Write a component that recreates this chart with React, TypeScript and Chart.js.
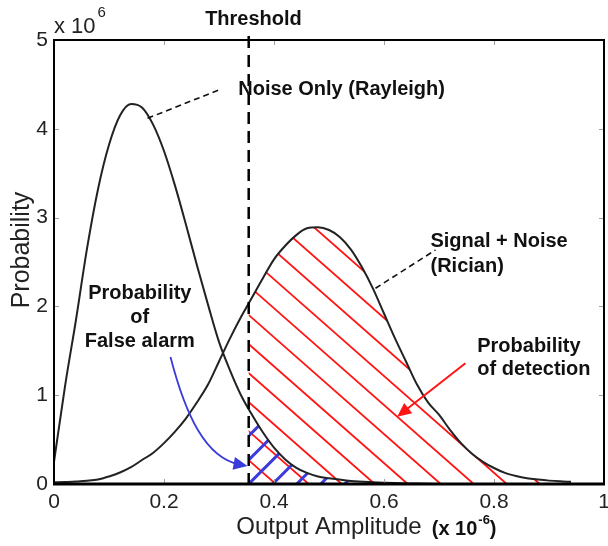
import React, { useEffect, useRef } from 'react';
import { Chart, registerables } from 'chart.js';

Chart.register(...registerables);

const FONT = '"Liberation Sans", Arial, Helvetica, sans-serif';

// ---- axis ticks ----
const X_TICKS = [0, 0.2, 0.4, 0.6, 0.8, 1];
const X_TICK_LABELS = ['0', '0.2', '0.4', '0.6', '0.8', '1'];
const Y_TICKS = [0, 1, 2, 3, 4, 5];
const Y_TICK_LABELS = ['0', '1', '2', '3', '4', '5'];

// ---- Noise only (Rayleigh) pdf (x in 1e-6, y in 1e6) ----
const RAYLEIGH_X = [
  0, 0.02, 0.04, 0.06, 0.08, 0.1, 0.12, 0.14, 0.16, 0.18, 0.2, 0.22, 0.24, 0.26, 0.28, 0.3,
  0.32, 0.34, 0.36, 0.38, 0.4, 0.42, 0.44, 0.46, 0.48, 0.5, 0.54, 0.58, 0.62, 0.66, 0.7,
];
const RAYLEIGH_Y = [
  0.25, 1.1, 1.85, 2.65, 3.32, 3.82, 4.15, 4.28, 4.24, 4.05, 3.75, 3.36, 2.92, 2.46, 2.02, 1.6,
  1.28, 1.0, 0.78, 0.58, 0.41, 0.28, 0.185, 0.125, 0.085, 0.065, 0.035, 0.02, 0.01, 0.005, 0,
];

// ---- Signal + noise (Rician) pdf ----
const RICIAN_X = [
  0, 0.02, 0.04, 0.06, 0.08, 0.1, 0.12, 0.14, 0.16, 0.18, 0.2, 0.22, 0.24, 0.26, 0.28, 0.3,
  0.32, 0.34, 0.36, 0.38, 0.4, 0.42, 0.44, 0.46, 0.48, 0.5, 0.52, 0.54, 0.56, 0.58, 0.6, 0.62,
  0.64, 0.66, 0.68, 0.7, 0.72, 0.74, 0.76, 0.78, 0.8, 0.82, 0.84, 0.86, 0.88, 0.9, 0.92, 0.94,
];
const RICIAN_Y = [
  0.02, 0.022, 0.028, 0.036, 0.05, 0.085, 0.13, 0.19, 0.27, 0.35, 0.46, 0.59, 0.74, 0.92, 1.12, 1.38,
  1.64, 1.88, 2.1, 2.32, 2.53, 2.68, 2.8, 2.88, 2.89, 2.86, 2.78, 2.64, 2.44, 2.2, 1.92, 1.64,
  1.38, 1.12, 0.92, 0.78, 0.61, 0.46, 0.34, 0.25, 0.18, 0.125, 0.09, 0.065, 0.05, 0.038, 0.03, 0.025,
];

const THRESHOLD = 0.354;

// ---- annotation anchors (data units) ----
const THRESHOLD_LABEL = { text: 'Threshold', x: 0.3627, y: 5.169 };
const THRESHOLD_LINE_TOP = 5.045;
const NOISE_LABEL = { text: 'Noise Only (Rayleigh)', x: 0.335, y: 4.38 };
const NOISE_LEADER = [[0.17, 4.118], [0.2996, 4.437]];
const SIGNAL_LABEL = { lines: ['Signal + Noise', '(Rician)'], x: 0.6845, y: [2.672, 2.391] };
const SIGNAL_LEADER = [[0.5845, 2.204], [0.6936, 2.635]];
const PD_LABEL = { lines: ['Probability', 'of detection'], x: 0.7695, y: [1.49, 1.2275] };
const PD_ARROW = [[0.748, 1.359], [0.624, 0.758]];
const PFA_LABEL = { lines: ['Probability', 'of', 'False alarm'], x: 0.156, y: [2.083, 1.813, 1.543] };
const PFA_ARROW = [[0.2118, 1.43], [0.2391, 0.777], [0.2755, 0.2928], [0.3518, 0.2027]];

function interpAt(xs: number[], ys: number[], xv: number) {
  for (let i = 1; i < xs.length; i++) {
    if (xs[i] >= xv) {
      const t = (xv - xs[i - 1]) / (xs[i] - xs[i - 1]);
      return ys[i - 1] + t * (ys[i] - ys[i - 1]);
    }
  }
  return ys[ys.length - 1];
}

function regionPath(ctx: CanvasRenderingContext2D, xs: number[], ys: number[], thr: number, sx: any, sy: any) {
  const base = sy.getPixelForValue(0);
  const tx = sx.getPixelForValue(thr);
  ctx.beginPath();
  ctx.moveTo(tx, base);
  ctx.lineTo(tx, sy.getPixelForValue(interpAt(xs, ys, thr)));
  for (let i = 0; i < xs.length; i++) {
    if (xs[i] > thr) ctx.lineTo(sx.getPixelForValue(xs[i]), sy.getPixelForValue(ys[i]));
  }
  ctx.lineTo(sx.getPixelForValue(xs[xs.length - 1]), base);
  ctx.closePath();
}

function arrowHead(ctx: CanvasRenderingContext2D, tipX: number, tipY: number, fromX: number, fromY: number, len: number, halfW: number, color: string) {
  const a = Math.atan2(tipY - fromY, tipX - fromX);
  const bx = tipX - len * Math.cos(a);
  const by = tipY - len * Math.sin(a);
  ctx.beginPath();
  ctx.moveTo(tipX, tipY);
  ctx.lineTo(bx + halfW * Math.sin(a), by - halfW * Math.cos(a));
  ctx.lineTo(bx - halfW * Math.sin(a), by + halfW * Math.cos(a));
  ctx.closePath();
  ctx.fillStyle = color;
  ctx.fill();
}

const overlayPlugin = {
  id: 'overlay',
  beforeDatasetsDraw(chart: any) {
    const { ctx, scales } = chart;
    const sx = scales.x;
    const sy = scales.y;
    const thrPx = sx.getPixelForValue(THRESHOLD);
    const base = sy.getPixelForValue(0);

    // red hatch: probability of detection
    ctx.save();
    regionPath(ctx, RICIAN_X, RICIAN_Y, THRESHOLD, sx, sy);
    ctx.clip();
    ctx.strokeStyle = '#ff1414';
    ctx.lineWidth = 1.8;
    for (let k = 0; k < 14; k++) {
      const xh = thrPx + 27 + 33 * k;
      const len = 420;
      ctx.beginPath();
      ctx.moveTo(xh, base);
      ctx.lineTo(xh - len, base - 0.88 * len);
      ctx.stroke();
    }
    ctx.restore();

    // blue hatch: probability of false alarm
    ctx.save();
    regionPath(ctx, RAYLEIGH_X, RAYLEIGH_Y, THRESHOLD, sx, sy);
    ctx.clip();
    ctx.strokeStyle = '#3b3bdc';
    ctx.lineWidth = 3;
    for (let k = -2; k < 6; k++) {
      const x0 = thrPx + 24 * k;
      ctx.beginPath();
      ctx.moveTo(x0, base);
      ctx.lineTo(x0 + 200, base - 200);
      ctx.stroke();
    }
    ctx.restore();
  },
  afterDatasetsDraw(chart: any) {
    const { ctx, chartArea, scales } = chart;
    const sx = scales.x;
    const sy = scales.y;
    const X = (v: number) => sx.getPixelForValue(v);
    const Y = (v: number) => sy.getPixelForValue(v);
    const { left, right, top, bottom } = chartArea;

    ctx.save();
    // inward tick marks on all four sides
    ctx.strokeStyle = '#a0a0a0';
    ctx.lineWidth = 1;
    X_TICKS.slice(1, -1).forEach((v) => {
      const p = Math.round(X(v)) + 0.5;
      ctx.beginPath();
      ctx.moveTo(p, bottom); ctx.lineTo(p, bottom - 5);
      ctx.moveTo(p, top); ctx.lineTo(p, top + 5);
      ctx.stroke();
    });
    Y_TICKS.slice(1, -1).forEach((v) => {
      const p = Math.round(Y(v)) + 0.5;
      ctx.beginPath();
      ctx.moveTo(left, p); ctx.lineTo(left + 5, p);
      ctx.moveTo(right, p); ctx.lineTo(right - 5, p);
      ctx.stroke();
    });

    // frame
    ctx.strokeStyle = '#000';
    ctx.lineWidth = 2;
    ctx.beginPath();
    ctx.moveTo(left, bottom); ctx.lineTo(left, top); ctx.lineTo(right, top); ctx.lineTo(right, bottom);
    ctx.stroke();
    ctx.lineWidth = 3;
    ctx.beginPath();
    ctx.moveTo(left - 1, bottom); ctx.lineTo(right + 1, bottom);
    ctx.stroke();

    // threshold dashed line
    ctx.setLineDash([12, 7]);
    ctx.lineWidth = 2.5;
    ctx.strokeStyle = '#000';
    ctx.beginPath();
    ctx.moveTo(X(THRESHOLD), Y(THRESHOLD_LINE_TOP));
    ctx.lineTo(X(THRESHOLD), bottom);
    ctx.stroke();

    // leader lines
    ctx.setLineDash([6, 4]);
    ctx.lineWidth = 1.6;
    ctx.strokeStyle = '#111';
    [NOISE_LEADER, SIGNAL_LEADER].forEach((l) => {
      ctx.beginPath();
      ctx.moveTo(X(l[0][0]), Y(l[0][1]));
      ctx.lineTo(X(l[1][0]), Y(l[1][1]));
      ctx.stroke();
    });
    ctx.setLineDash([]);

    // red arrow (probability of detection)
    {
      const x1 = X(PD_ARROW[0][0]), y1 = Y(PD_ARROW[0][1]);
      const x2 = X(PD_ARROW[1][0]), y2 = Y(PD_ARROW[1][1]);
      const a = Math.atan2(y2 - y1, x2 - x1);
      ctx.strokeStyle = '#ff1414';
      ctx.lineWidth = 2;
      ctx.beginPath();
      ctx.moveTo(x1, y1);
      ctx.lineTo(x2 - 12 * Math.cos(a), y2 - 12 * Math.sin(a));
      ctx.stroke();
      arrowHead(ctx, x2, y2, x1, y1, 14, 6.5, '#ff1414');
    }

    // blue curved arrow (probability of false alarm)
    {
      const p = PFA_ARROW.map((q) => [X(q[0]), Y(q[1])]);
      ctx.strokeStyle = '#3b3bdc';
      ctx.lineWidth = 1.8;
      ctx.beginPath();
      ctx.moveTo(p[0][0], p[0][1]);
      ctx.bezierCurveTo(p[1][0], p[1][1], p[2][0], p[2][1], p[3][0] - 8, p[3][1] - 1.5);
      ctx.stroke();
      arrowHead(ctx, p[3][0], p[3][1], p[2][0], p[2][1], 14, 6.5, '#3b3bdc');
    }

    // bold annotations
    ctx.fillStyle = '#111';
    ctx.font = `bold 20px ${FONT}`;
    ctx.textBaseline = 'alphabetic';
    ctx.textAlign = 'center';
    ctx.fillText(THRESHOLD_LABEL.text, X(THRESHOLD_LABEL.x), Y(THRESHOLD_LABEL.y));
    PFA_LABEL.lines.forEach((s, i) => ctx.fillText(s, X(PFA_LABEL.x), Y(PFA_LABEL.y[i])));
    ctx.textAlign = 'left';
    ctx.fillText(NOISE_LABEL.text, X(NOISE_LABEL.x), Y(NOISE_LABEL.y));
    SIGNAL_LABEL.lines.forEach((s, i) => ctx.fillText(s, X(SIGNAL_LABEL.x), Y(SIGNAL_LABEL.y[i])));
    PD_LABEL.lines.forEach((s, i) => ctx.fillText(s, X(PD_LABEL.x), Y(PD_LABEL.y[i])));

    // exponent label at top-left: x 10^6
    ctx.fillStyle = '#222';
    ctx.font = `22px ${FONT}`;
    const mainTxt = 'x 10';
    ctx.fillText(mainTxt, left, top - 7);
    const w1 = ctx.measureText(mainTxt).width;
    ctx.font = `15px ${FONT}`;
    ctx.fillText('6', left + w1 + 2, top - 23);

    // y-axis title
    ctx.save();
    ctx.translate(22, (top + bottom) / 2 - 12);
    ctx.rotate(-Math.PI / 2);
    ctx.textAlign = 'center';
    ctx.textBaseline = 'middle';
    ctx.font = `25px ${FONT}`;
    ctx.fillStyle = '#222';
    ctx.fillText('Probability', 0, 0);
    ctx.restore();

    // unit after x-axis title: (x 10^-6)
    ctx.font = `24px ${FONT}`;
    const titleW = ctx.measureText('Output Amplitude').width;
    let ux = (left + right) / 2 + titleW / 2 + 10;
    const uy = bottom + 51;
    ctx.fillStyle = '#111';
    ctx.textAlign = 'left';
    ctx.font = `bold 20px ${FONT}`;
    ctx.fillText('(x 10', ux, uy);
    ux += ctx.measureText('(x 10').width;
    ctx.font = `bold 13px ${FONT}`;
    ctx.fillText('-6', ux + 1, uy - 11);
    ux += ctx.measureText('-6').width + 1;
    ctx.font = `bold 20px ${FONT}`;
    ctx.fillText(')', ux, uy);
    ctx.restore();
  },
};

export default function App() {
  const ref = useRef<HTMLCanvasElement>(null);

  useEffect(() => {
    const canvas = ref.current;
    if (!canvas) return;
    const chart = new Chart(canvas, {
      type: 'line',
      data: {
        datasets: [
          {
            label: 'Noise Only (Rayleigh)',
            data: RAYLEIGH_X.map((x, i) => ({ x, y: RAYLEIGH_Y[i] })),
            borderColor: '#222',
            borderWidth: 2,
            pointRadius: 0,
            fill: false,
            cubicInterpolationMode: 'monotone',
          },
          {
            label: 'Signal + Noise (Rician)',
            data: RICIAN_X.map((x, i) => ({ x, y: RICIAN_Y[i] })),
            borderColor: '#222',
            borderWidth: 2,
            pointRadius: 0,
            fill: false,
            cubicInterpolationMode: 'monotone',
          },
        ],
      },
      options: {
        animation: false,
        responsive: false,
        devicePixelRatio: 1,
        layout: { padding: { top: 40, right: 4, bottom: 0, left: 0 } },
        plugins: {
          legend: { display: false },
          tooltip: { enabled: false },
        },
        scales: {
          x: {
            type: 'linear',
            min: 0,
            max: 1,
            grid: { display: false, drawTicks: false },
            border: { display: false },
            afterBuildTicks: (s: any) => {
              s.ticks = X_TICKS.map((v) => ({ value: v }));
            },
            afterFit: (s: any) => {
              s.height = 62;
              s.paddingLeft = 0;
              s.paddingRight = 0;
            },
            ticks: {
              padding: 6,
              maxRotation: 0,
              autoSkip: false,
              color: '#222',
              font: { family: FONT, size: 21 },
              callback: (_v: any, i: number) => X_TICK_LABELS[i],
            },
            title: {
              display: true,
              text: 'Output Amplitude',
              color: '#222',
              font: { family: FONT, size: 24 },
              padding: { top: 0, bottom: 4 },
            },
          },
          y: {
            type: 'linear',
            min: 0,
            max: 5,
            grid: { display: false, drawTicks: false },
            border: { display: false },
            afterBuildTicks: (s: any) => {
              s.ticks = Y_TICKS.map((v) => ({ value: v }));
            },
            afterFit: (s: any) => {
              s.width = 54;
              s.paddingTop = 0;
              s.paddingBottom = 0;
            },
            ticks: {
              padding: 6,
              autoSkip: false,
              color: '#222',
              font: { family: FONT, size: 21 },
              callback: (_v: any, i: number) => Y_TICK_LABELS[i],
            },
          },
        },
      },
      plugins: [overlayPlugin],
    } as any);
    return () => chart.destroy();
  }, []);

  return (
    <div style={{ position: 'absolute', left: 0, top: 0, width: 608, height: 546, background: '#fff' }}>
      <canvas ref={ref} width={608} height={546} style={{ display: 'block' }} />
    </div>
  );
}
